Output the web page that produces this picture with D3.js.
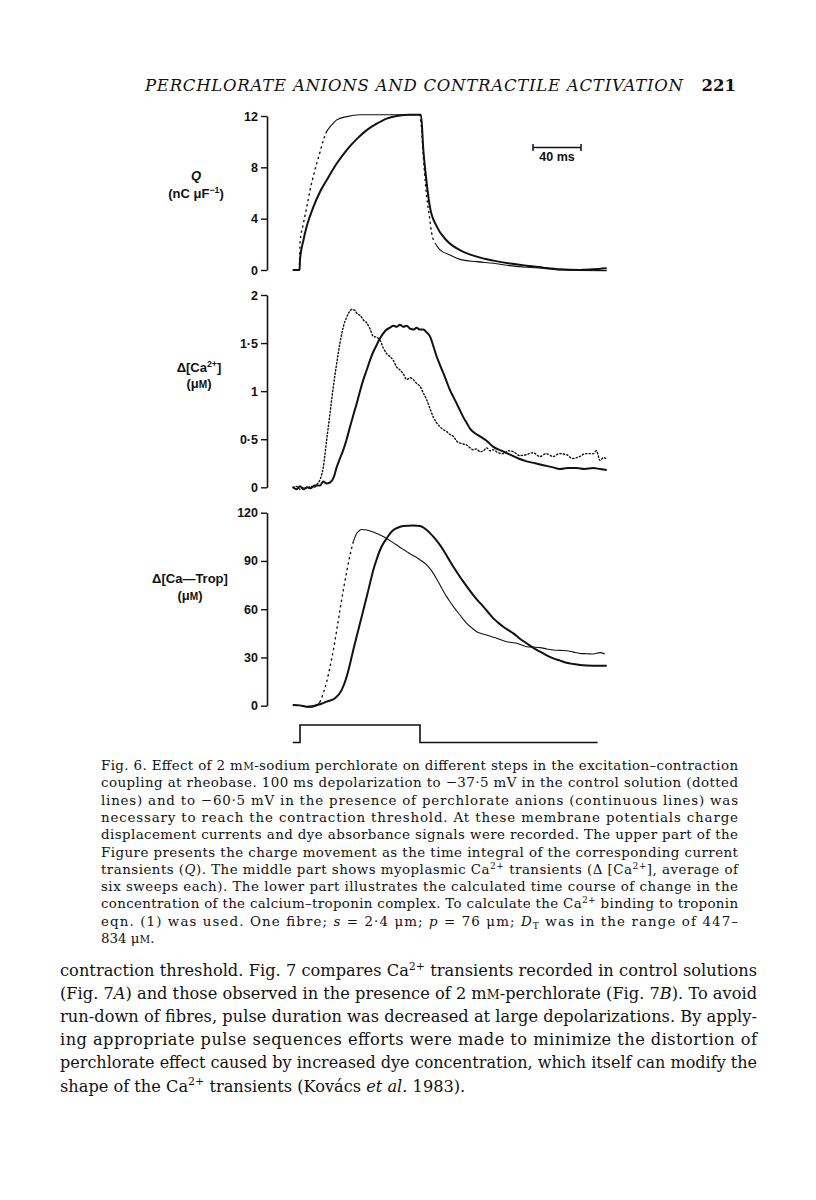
<!DOCTYPE html>
<html><head><meta charset="utf-8">
<script src="https://cdn.jsdelivr.net/npm/d3@7"></script>
<style>body{margin:0;background:#fff}</style>
</head><body>
<svg id="fig" width="816" height="1200" xmlns="http://www.w3.org/2000/svg"></svg>
<script>
// ---------------- DATA ----------------
// time in ms relative to pulse onset
const qSolidT = [-6,-0.3,0,2.8,5.6,11.1,16.7,22.2,30.6,38.9,47.2,55.6,63.9,72.2,80.6,91.7,100.8,102.8,105.6,108.3,113.9,122.2,133.3,147.2,161.1,175,188.9,202.8,216.7,233.3,244,255.6];
const qSolidV = [0,0,0.8,2.3,3.4,4.9,6.1,7.0,8.3,9.35,10.2,10.9,11.4,11.8,12.0,12.1,12.1,9.35,6.75,4.9,3.4,2.3,1.55,1.04,0.73,0.5,0.34,0.18,0.05,0,0.05,0.13];
const qDotT = [-6,-0.5,0,2.8,5.6,8.3,11.1,13.9,16.7,19.4,22.2,26.4,30.6,38.9,50,77.8,100,101.4,102.8,104.2,105.6,107.8,109.7,112.5,116.7,125,133.3,147.2,161.1,175,188.9,202.8,216.7,255.6];
const qDotV = [0,0,2.1,3.6,4.9,6.2,7.3,8.3,9.2,10.1,10.8,11.3,11.7,11.95,12.1,12.1,12.1,10.9,8.8,7.1,5.7,4.2,2.9,2.1,1.56,1.17,0.83,0.65,0.52,0.34,0.21,0.13,0.0,-0.05];

const caSolidT = [-6,-3,0,3,6,9,12,16.7,19.4,22,25,28,30.6,33.3,36.1,38.9,41.7,44.4,47.2,50,52.8,55.6,58.3,61.1,63.9,66.7,69.4,72.2,75,77.8,80.6,83.3,86.1,88.9,91.7,94.4,97.2,100,102.8,105.6,108.3,111.1,113.9,116.7,119.4,122.2,125,127.8,130.6,133.3,136.1,138.9,141.7,145,150,155,161.1,168,175,182,188.9,196,202.8,210,216.7,223,230.6,237,244.4,250,255.6];
const caSolidV = [0,-0.02,0.01,-0.02,0,-0.01,0.02,0.02,0.06,0.04,0.05,0.1,0.21,0.3,0.39,0.5,0.63,0.75,0.87,1.0,1.12,1.22,1.32,1.41,1.48,1.55,1.6,1.64,1.66,1.68,1.67,1.69,1.67,1.68,1.65,1.64,1.66,1.64,1.64,1.61,1.57,1.47,1.36,1.27,1.19,1.1,1.01,0.94,0.87,0.8,0.73,0.67,0.61,0.57,0.53,0.49,0.42,0.38,0.34,0.3,0.27,0.25,0.23,0.21,0.19,0.2,0.2,0.19,0.2,0.19,0.18];
const caDotT = [-6,-3,0,3,6,9,12,14,16.7,19.4,22.2,25,27.8,30.6,33.3,36.1,38.9,41.5,43.1,45.8,48,50,52.8,55.6,58.3,61.1,63.9,66.7,69.4,72.2,75,77.8,80.6,83.3,86.1,88.9,91.7,94.4,97.2,100,102.8,105.6,108.3,111.1,113.9,116.7,119.4,122.2,125,127.8,130.6,133.3,136.1,138.9,141.7,144.4,147,150,152.8,155.6,158.3,161.1,165,169.4,173.6,177.8,183,188.9,194,200,205,211,216,222,227,233,238,244.4,247,250,253,255.6];
const caDotV = [0,0.01,-0.02,0,-0.01,0.01,0,0.03,0.08,0.21,0.49,0.77,1.05,1.29,1.5,1.67,1.77,1.83,1.85,1.84,1.8,1.79,1.74,1.71,1.65,1.57,1.56,1.53,1.45,1.39,1.36,1.32,1.25,1.22,1.18,1.12,1.14,1.12,1.08,1.05,0.98,0.91,0.82,0.73,0.67,0.63,0.6,0.58,0.55,0.53,0.48,0.46,0.45,0.44,0.41,0.39,0.4,0.37,0.38,0.41,0.38,0.39,0.36,0.35,0.38,0.37,0.33,0.34,0.36,0.32,0.35,0.32,0.35,0.34,0.3,0.32,0.35,0.35,0.38,0.28,0.31,0.29];

const tropSolidT = [-6,0,5.6,10,13.9,18,22.2,29.2,34.7,38.9,41.7,44.4,47.2,50,52.8,55.6,58.3,61.1,63.9,66.7,69.4,72.2,75,77.8,81.9,86.1,94.4,100,102.8,105.6,108.3,111.1,115,119.4,123.6,127.8,132,136.1,140.3,144.4,148.6,152.8,157,161.1,165.3,169.4,173.6,177.8,183,188.9,194.4,200,205.6,211.1,216.7,222.2,227.8,233.3,238.9,244.4,255.6];
const tropSolidV = [0.4,0.2,-0.6,-0.3,0.4,1.2,2.5,4.6,9.7,18,26,34.6,43,51.2,59.5,67.8,76,84.4,91,96.8,100.8,104,107,109.2,110.8,111.7,112.1,111.7,110.8,109.2,107.3,105.1,101.5,96.8,91.6,86.4,81.6,77.1,72.8,68.8,65,61.6,57.8,54.3,51.5,49.1,47,45,41.8,38.8,36,33.6,31.3,29.4,28,26.7,25.9,25.3,25,24.9,24.9];
const tropDotT = [-6,2.8,8.3,13.9,16.7,19.4,22.2,25,27.8,30.6,33.3,36.1,38.9,41.7,44.4,47.2,49.3,51.4,55.6,59.7,63.9,68,72.2,76.4,80.6,84.7,88.9,93,97.2,101.4,105.6,108.3,111.1,113.9,116.7,119.4,122.2,125,127.8,130.6,133.3,136.1,138.9,143,147.2,151.4,155.6,159.7,163.9,168,172.2,176.4,180.6,184.7,188.9,194.4,200,205.6,211.1,216.7,222.2,227.8,233.3,238.9,244.4,250,254];
const tropDotV = [0.4,-0.2,-1,0,2.5,7.7,14.9,24.2,34.6,47,59.5,71.9,83.3,93.7,102,107.1,108.8,109.6,109.2,108.3,107.1,105.7,104,102,99.9,97.8,95.8,93.8,92.2,90,87.5,85.2,82.3,78.8,75,71.3,67.8,64.6,61.6,58.9,56.4,53.7,51.2,48.5,46,44.8,43.9,42.9,41.9,40.8,39.8,39.3,38.8,37.7,36.7,36.4,36.1,35.3,34.6,34.4,34.2,33.3,32.5,32.3,32.1,33,32.1];

const pulseT = [-6,0,100,248];
const pulseV = [0,1,0,0];

const qTicks = [0,4,8,12];        const qTickLabels = ["0","4","8","12"];
const caTicks = [0,0.5,1,1.5,2];  const caTickLabels = ["0","0·5","1","1·5","2"];
const tropTicks = [0,30,60,90,120]; const tropTickLabels = ["0","30","60","90","120"];
const scaleBarMs = 40;

// ---------------- LAYOUT ----------------
const svg = d3.select("#fig");
svg.append("rect").attr("width",816).attr("height",1200).attr("fill","#fff");

const x = d3.scaleLinear().domain([0,100]).range([300,420]);
const yQ = d3.scaleLinear().domain([0,12]).range([270,116]);
const yCa = d3.scaleLinear().domain([0,2]).range([487.3,295]);
const yTrop = d3.scaleLinear().domain([0,120]).range([705.7,512.7]);
const yPulse = d3.scaleLinear().domain([0,1]).range([742.5,725]);
const axisX = 267;
const INK = "#111";
const SANS = "'Liberation Sans', Arial, Helvetica, sans-serif";
const SERIF = "'DejaVu Serif', serif";

function drawAxis(scale, ticks, labels){
  const g = svg.append("g").attr("transform",`translate(${axisX},0)`)
    .call(d3.axisLeft(scale).tickValues(ticks).tickFormat((d,i)=>labels[i]).tickSize(6).tickSizeOuter(0).tickPadding(3));
  g.select(".domain").attr("stroke",INK).attr("stroke-width",1.6);
  g.selectAll(".tick line").attr("stroke",INK).attr("stroke-width",1.4);
  g.selectAll(".tick text").attr("font-family",SANS).attr("font-size",12.5).attr("font-weight","bold").attr("fill",INK);
}
drawAxis(yQ,qTicks,qTickLabels);
drawAxis(yCa,caTicks,caTickLabels);
drawAxis(yTrop,tropTicks,tropTickLabels);

function drawSolid(T,V,y){
  const line = d3.line().x(d=>x(d[0])).y(d=>y(d[1])).curve(d3.curveMonotoneX);
  svg.append("path").attr("d",line(T.map((t,i)=>[t,V[i]])))
    .attr("fill","none").attr("stroke",INK).attr("stroke-width",2).attr("stroke-linejoin","round");
}
// control traces: sampled points look dotted where the trace is steep and continuous where flat
function drawControl(T,V,y,thresh,allDotted){
  const pts = T.map((t,i)=>[x(t),y(V[i])]);
  const groups=[]; let cur=null;
  for(let i=0;i<pts.length-1;i++){
    const dx=pts[i+1][0]-pts[i][0], dy=pts[i+1][1]-pts[i][1];
    const steep = allDotted || Math.abs(dy)/dx>thresh;
    if(!cur||cur.steep!==steep){cur={steep,pts:[pts[i]]};groups.push(cur);}
    cur.pts.push(pts[i+1]);
  }
  const line = d3.line().curve(d3.curveMonotoneX);
  groups.forEach(gr=>{
    const p = svg.append("path").attr("d",line(gr.pts)).attr("fill","none").attr("stroke",INK);
    if(gr.steep) p.attr("stroke-width",1.4).attr("stroke-dasharray",allDotted?"1.3,2.2":"1.2,4.2").attr("stroke-linecap","round");
    else p.attr("stroke-width",1.1);
  });
}

drawControl(qDotT,qDotV,yQ,2.0,false);
drawSolid(qSolidT,qSolidV,yQ);
drawControl(caDotT,caDotV,yCa,2.0,true);
drawSolid(caSolidT,caSolidV,yCa);
drawControl(tropDotT,tropDotV,yTrop,2.5,false);
drawSolid(tropSolidT,tropSolidV,yTrop);

// pulse
svg.append("path")
  .attr("d",d3.line().x((d)=>x(d[0])).y(d=>yPulse(d[1])).curve(d3.curveStepAfter)(pulseT.map((t,i)=>[t,pulseV[i]])))
  .attr("fill","none").attr("stroke",INK).attr("stroke-width",1.6);

// scale bar
const sbX = 533, sbY = 147.5, sbW = x(scaleBarMs)-x(0);
const sb = svg.append("g").attr("stroke",INK).attr("stroke-width",1.5);
sb.append("line").attr("x1",sbX).attr("x2",sbX+sbW).attr("y1",sbY).attr("y2",sbY);
sb.append("line").attr("x1",sbX).attr("x2",sbX).attr("y1",sbY-3.5).attr("y2",sbY+3.5);
sb.append("line").attr("x1",sbX+sbW).attr("x2",sbX+sbW).attr("y1",sbY-3.5).attr("y2",sbY+3.5);
svg.append("text").attr("x",sbX+sbW/2).attr("y",161).attr("text-anchor","middle")
  .attr("font-family",SANS).attr("font-size",12.5).attr("font-weight","bold").attr("fill",INK).text(scaleBarMs+" ms");

// ---------------- TEXT helper ----------------
function richText(px,py,segs,o){
  const fs=o.size;
  const t = svg.append("text").attr("x",px).attr("y",py).attr("font-family",o.family).attr("font-size",fs)
    .attr("fill",INK).attr("text-anchor",o.anchor||"start");
  if(o.style) t.attr("font-style",o.style);
  if(o.weight) t.attr("font-weight",o.weight);
  let shift=0;
  segs.forEach(s=>{
    const str = typeof s==="string"?s:s[0], kind = typeof s==="string"?"":(s[1]||"");
    const sp = t.append("tspan").text(str);
    let target=0;
    if(kind==="sup"){ sp.attr("font-size",fs*0.68); target=-fs*0.38; }
    if(kind==="sub"){ sp.attr("font-size",fs*0.68); target=fs*0.22; }
    if(kind==="sc"){ sp.attr("font-size",fs*0.78); }
    if(kind==="i"){ sp.attr("font-style","italic"); }
    if(target!==shift){ sp.attr("dy",target-shift); shift=target; }
  });
  if(o.width){
    const L=t.node().getComputedTextLength();
    t.attr("textLength",o.width).attr("lengthAdjust",L>o.width?"spacingAndGlyphs":"spacing");
  }
  return t;
}

// axis labels
const lab={family:SANS,size:13,anchor:"middle",weight:"bold"};
richText(196,180,[["Q","i"]],lab);
richText(196,198,["(nC ",["μF","" ],["−1","sup"],[")",""]],lab);
richText(199,372,["Δ[Ca",["2+","sup"],["]",""]],lab);
richText(199,388,["(μ",["M","sc"],[")",""]],lab);
richText(190,583,["Δ[Ca—Trop]"],lab);
richText(190,600,["(μ",["M","sc"],[")",""]],lab);

// running header
richText(145,91,["PERCHLORATE ANIONS AND CONTRACTILE ACTIVATION"],{family:SERIF,size:16.5,style:"italic",width:538});
richText(736,91,["221"],{family:SERIF,size:16.5,weight:"bold",anchor:"end"});

// caption
const capLines = [
  ["Fig. 6. Effect of 2 m",["M","sc"],["-sodium perchlorate on different steps in the excitation–contraction",""]],
  ["coupling at rheobase. 100 ms depolarization to −37·5 mV in the control solution (dotted"],
  ["lines) and to −60·5 mV in the presence of perchlorate anions (continuous lines) was"],
  ["necessary to reach the contraction threshold. At these membrane potentials charge"],
  ["displacement currents and dye absorbance signals were recorded. The upper part of the"],
  ["Figure presents the charge movement as the time integral of the corresponding current"],
  ["transients (",["Q","i"],["). The middle part shows myoplasmic Ca",""],["2+","sup"],[" transients (Δ [Ca",""],["2+","sup"],["], average of",""]],
  ["six sweeps each). The lower part illustrates the calculated time course of change in the"],
  ["concentration of the calcium–troponin complex. To calculate the Ca",["2+","sup"],[" binding to troponin",""]],
  ["eqn. (1) was used. One fibre; ",["s","i"],[" = 2·4 μm; ",""],["p","i"],[" = 76 μm; ",""],["D","i"],["T","sub"],[" was in the range of 447–",""]],
  ["834 μ",["M","sc"],[".",""]]
];
capLines.forEach((segs,i)=>{
  const last = i===capLines.length-1;
  richText(101,770+i*17.3,segs,{family:SERIF,size:13.4,width:last?null:637});
});

// body text
const bodyLines = [
  ["contraction threshold. Fig. 7 compares Ca",["2+","sup"],[" transients recorded in control solutions",""]],
  ["(Fig. 7",["A","i"],[") and those observed in the presence of 2 m",""],["M","sc"],["-perchlorate (Fig. 7",""],["B","i"],["). To avoid",""]],
  ["run-down of fibres, pulse duration was decreased at large depolarizations. By apply-"],
  ["ing appropriate pulse sequences efforts were made to minimize the distortion of"],
  ["perchlorate effect caused by increased dye concentration, which itself can modify the"],
  ["shape of the Ca",["2+","sup"],[" transients (Kovács ",""],["et al.","i"],[" 1983).",""]]
];
bodyLines.forEach((segs,i)=>{
  const last = i===bodyLines.length-1;
  richText(60,976+i*23.1,segs,{family:SERIF,size:16.2,width:last?null:697});
});
</script>
</body></html>
